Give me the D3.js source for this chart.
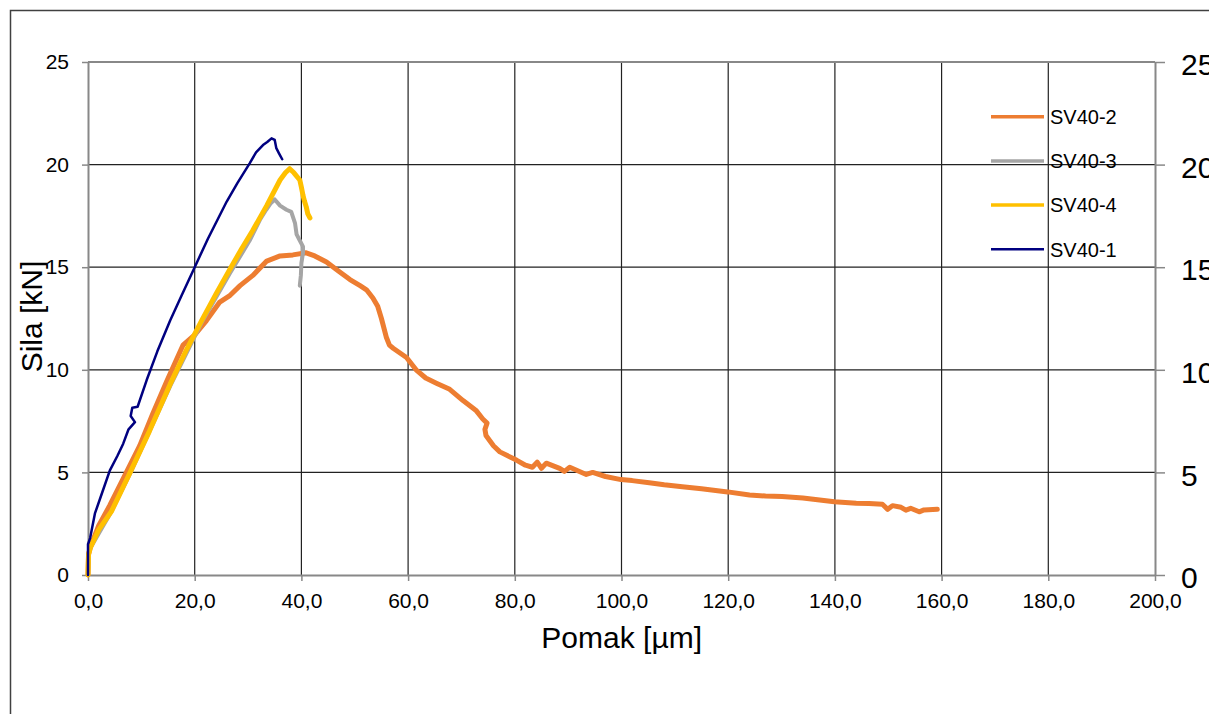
<!DOCTYPE html>
<html>
<head>
<meta charset="utf-8">
<script src="https://cdn.jsdelivr.net/npm/d3@7"></script>
<style>
  body { margin: 0; background: #fff; }
  svg { display: block; font-family: "Liberation Sans", Arial, sans-serif; }
</style>
</head>
<body>
<svg id="chart" width="1209" height="714"></svg>
<script>
// podatki - pomak [µm], sila [kN]
const xTicks = [0, 20, 40, 60, 80, 100, 120, 140, 160, 180, 200];
const yTicks = [0, 5, 10, 15, 20, 25];

const sv40_2 = [[0,0],[0.1,1.0],[0.5,1.4],[2,2.4],[4.1,3.4],[7,4.9],[9.7,6.3],[12.2,7.9],[14.7,9.4],[17.8,11.2],[20,11.7],[22.2,12.4],[24.7,13.3],[26.5,13.6],[28.5,14.1],[30.9,14.6],[33.5,15.3],[36,15.55],[38.4,15.6],[40.9,15.7],[42.5,15.55],[44.7,15.25],[47,14.8],[49.1,14.4],[51,14.1],[52.2,13.9],[53.4,13.5],[54.3,13.1],[55.0,12.5],[55.9,11.6],[56.5,11.2],[57.2,11.05],[59.7,10.6],[61.5,10.0],[63.3,9.6],[65.3,9.35],[67.8,9.05],[70.3,8.5],[72.8,8.0],[74.0,7.6],[74.8,7.4],[74.4,7.1],[74.6,6.8],[76.0,6.3],[77.2,6.0],[80.3,5.6],[82,5.35],[83.3,5.25],[84.2,5.5],[85.0,5.2],[85.9,5.45],[88.4,5.2],[89.3,5.05],[90.3,5.25],[93.4,4.9],[94.6,5.0],[97,4.8],[99.9,4.65],[102,4.6],[105.2,4.5],[108,4.4],[111.4,4.3],[115,4.2],[119.9,4.05],[124,3.9],[127,3.85],[130.1,3.82],[134,3.75],[139.9,3.57],[144,3.5],[146.4,3.49],[148.9,3.45],[149.9,3.2],[150.8,3.38],[152.4,3.3],[153.3,3.16],[154.2,3.25],[155.8,3.08],[156.7,3.17],[159.2,3.2]];

const sv40_3 = [[0,0],[0.2,1.2],[4.4,3.1],[8,5.0],[15.4,9.2],[21.3,12.3],[26.6,14.7],[30.3,16.3],[32.2,17.3],[33.4,17.8],[34.2,18.1],[35.0,18.3],[36,18.0],[37.2,17.8],[38.1,17.7],[38.8,17.15],[39.1,16.6],[39.7,16.3],[40.3,16.0],[40.3,15.7],[40.0,15.2],[39.9,14.6],[39.7,14.1]];

const sv40_4 = [[0,0],[0.1,1.0],[0.4,1.3],[2,2.2],[4.4,3.1],[7.9,5.0],[11.5,7.0],[15.4,9.3],[18.5,11.0],[21.3,12.4],[24,13.7],[26.6,14.9],[28.8,15.9],[30.9,16.8],[33.5,18.0],[36.0,19.25],[37.0,19.6],[37.8,19.8],[38.6,19.6],[39.7,19.25],[40.0,18.9],[40.3,18.5],[40.6,18.2],[40.9,17.95],[41.2,17.6],[41.6,17.4]];

const sv40_1 = [[0,0],[0,1.5],[0.4,1.8],[1.3,3.0],[2.5,3.9],[4.1,5.1],[5.5,5.8],[6.6,6.4],[7.6,7.1],[8.8,7.45],[8.0,7.75],[8.3,8.15],[9.3,8.2],[11.0,9.5],[13.0,10.9],[15.4,12.4],[17.5,13.6],[20.0,15.0],[22.5,16.4],[26.0,18.2],[28,19.1],[30.3,20.06],[31.5,20.6],[32.8,20.95],[33.6,21.1],[34.4,21.28],[35.0,21.2],[35.3,20.8],[35.8,20.55],[36.4,20.26]];

const series = [
  {name: "SV40-2", data: sv40_2, color: "#ED7D31", w: 5},
  {name: "SV40-3", data: sv40_3, color: "#A5A5A5", w: 4},
  {name: "SV40-4", data: sv40_4, color: "#FFC000", w: 5},
  {name: "SV40-1", data: sv40_1, color: "#000080", w: 2.5}
];

const svg = d3.select("#chart");
const pLeft = 88, pRight = 1155, pTop = 62, pBottom = 575;

const x = d3.scaleLinear().domain([0, 200]).range([pLeft, pRight]);
const y = d3.scaleLinear().domain([0, 25]).range([pBottom, pTop]);

// okvir
svg.append("rect")
  .attr("x", 10.5).attr("y", 10.5)
  .attr("width", 1230).attr("height", 730)
  .attr("fill", "none").attr("stroke", "#404040").attr("stroke-width", 1.5);

// mreža
svg.append("g").selectAll("line")
  .data(xTicks.slice(1, -1))
  .join("line")
  .attr("x1", d => x(d)).attr("x2", d => x(d))
  .attr("y1", pTop).attr("y2", pBottom)
  .attr("stroke", "#222").attr("stroke-width", 1.2);

svg.append("g").selectAll("line")
  .data(yTicks.slice(1, -1))
  .join("line")
  .attr("x1", pLeft).attr("x2", pRight)
  .attr("y1", d => y(d)).attr("y2", d => y(d))
  .attr("stroke", "#222").attr("stroke-width", 1.2);

svg.append("line")
  .attr("x1", pLeft).attr("x2", pRight)
  .attr("y1", pTop).attr("y2", pTop)
  .attr("stroke", "#888").attr("stroke-width", 2);

const fmt = d => d3.format(".1f")(d).replace(".", ",");

const gx = svg.append("g")
  .attr("transform", `translate(0,${pBottom})`)
  .call(d3.axisBottom(x).tickValues(xTicks).tickFormat(fmt).tickSizeInner(6).tickSizeOuter(0).tickPadding(12));

const gy = svg.append("g")
  .attr("transform", `translate(${pLeft},0)`)
  .call(d3.axisLeft(y).tickValues(yTicks).tickSizeInner(6).tickSizeOuter(0).tickPadding(13));

const gr = svg.append("g")
  .attr("transform", `translate(${pRight},0)`)
  .call(d3.axisRight(y).tickValues(yTicks).tickSizeInner(10).tickSizeOuter(0).tickPadding(16));

[gx, gy, gr].forEach(g => {
  g.select(".domain").attr("stroke", "#888").attr("stroke-width", 2);
  g.selectAll(".tick line").attr("stroke", "#888").attr("stroke-width", 1.5);
  g.selectAll("text").attr("fill", "#000").attr("font-family", "Liberation Sans, Arial, sans-serif");
});
gx.selectAll("text").attr("font-size", 21);
gy.selectAll("text").attr("font-size", 21);
gr.selectAll("text").attr("font-size", 30).attr("dy", "0.42em");

// krivulje
const line = d3.line().x(d => x(d[0])).y(d => y(d[1]));

svg.append("g").selectAll("path")
  .data(series)
  .join("path")
  .attr("d", d => line(d.data))
  .attr("fill", "none")
  .attr("stroke", d => d.color)
  .attr("stroke-width", d => d.w)
  .attr("stroke-linejoin", "round")
  .attr("stroke-linecap", "round");

// legenda
const leg = svg.append("g").selectAll("g")
  .data(series)
  .join("g")
  .attr("transform", (d, i) => `translate(991,${116.7 + i * 44.2})`);

leg.append("line")
  .attr("x1", 0).attr("x2", 53)
  .attr("stroke", d => d.color)
  .attr("stroke-width", d => d.w === 2.5 ? 2.5 : 3.5);

leg.append("text")
  .attr("x", 59).attr("y", 7.3)
  .attr("font-size", 20)
  .text(d => d.name);

// naslovi osi
svg.append("text")
  .attr("x", 621.7).attr("y", 647.7)
  .attr("text-anchor", "middle")
  .attr("font-size", 30)
  .text("Pomak [µm]");

svg.append("text")
  .attr("transform", "translate(41.5,316.5) rotate(-90)")
  .attr("text-anchor", "middle")
  .attr("font-size", 30)
  .text("Sila [kN]");
</script>
</body>
</html>
